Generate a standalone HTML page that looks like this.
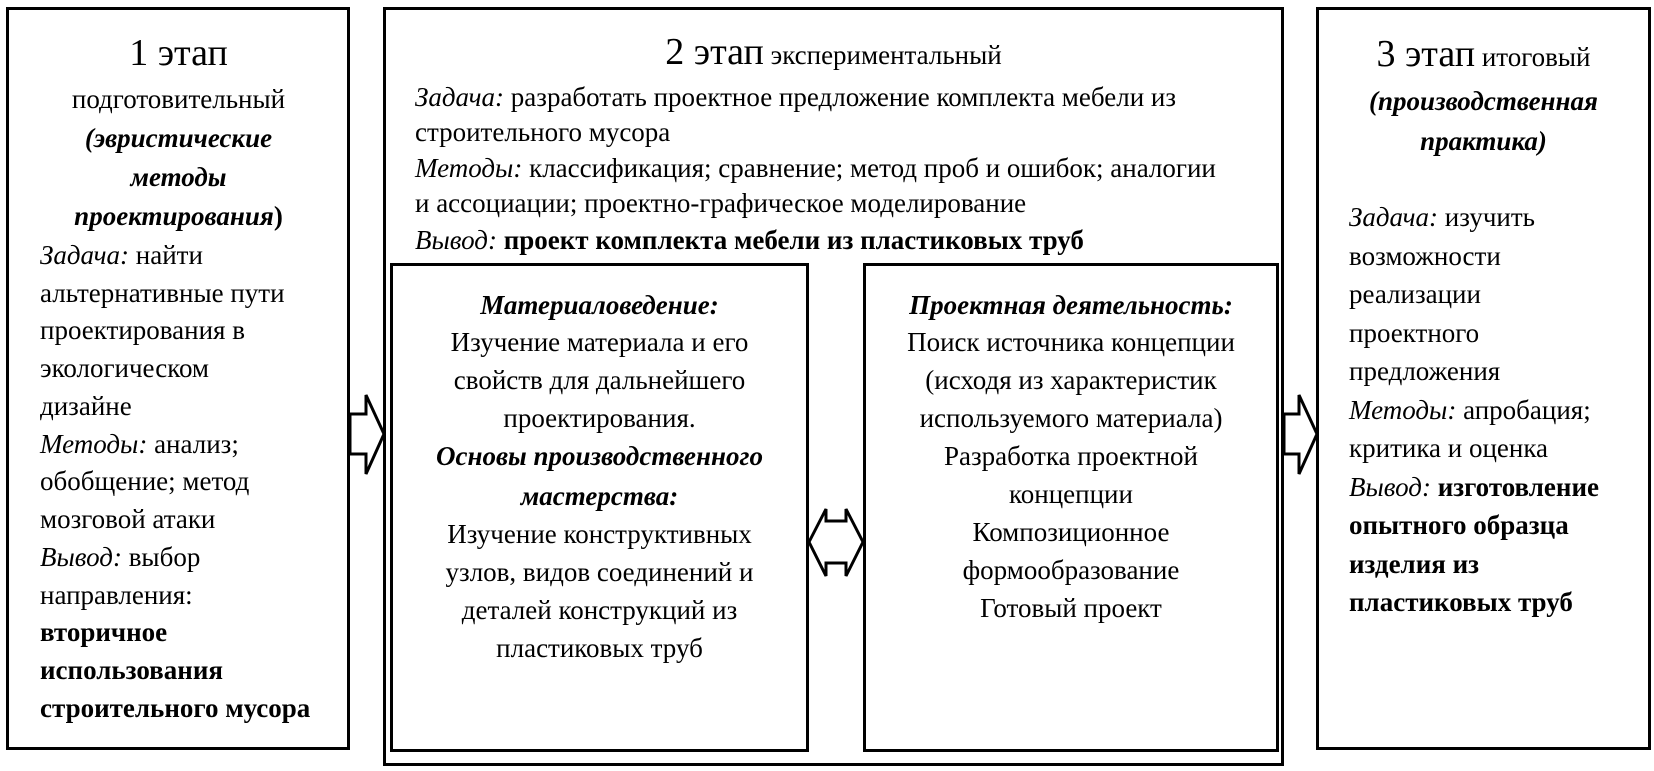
<!DOCTYPE html>
<html><head><meta charset="utf-8"><style>
*{margin:0;padding:0;box-sizing:border-box}
body{width:1654px;height:771px;background:#fff;position:relative;overflow:hidden;font-family:"Liberation Serif","DejaVu Serif",serif;color:#000}
.b{position:absolute;border:3px solid #000}
.t{position:absolute;font-size:27px;line-height:38px;white-space:nowrap}
.c{text-align:center}
i{font-style:italic}
.big{font-size:38px}
</style></head><body>
<div class="b" style="left:6px;top:7px;width:344px;height:743px"></div>
<div class="b" style="left:383px;top:7px;width:901px;height:759px"></div>
<div class="b" style="left:390px;top:263px;width:419px;height:489px"></div>
<div class="b" style="left:863px;top:263px;width:416px;height:489px"></div>
<div class="b" style="left:1316px;top:7px;width:335px;height:743px"></div>

<svg style="position:absolute;left:0;top:0" width="1654" height="771">
<polygon points="350,414 366,414 366,395 384,434 366,474 366,454 350,454" fill="#fff" stroke="#000" stroke-width="3"/>
<polygon points="1284,414 1299,414 1299,395 1317,434 1299,474 1299,454 1284,454" fill="#fff" stroke="#000" stroke-width="3"/>
<polygon points="809,542 826,509 826,521 846,521 846,509 863,542 846,576 846,563 826,563 826,576" fill="#fff" stroke="#000" stroke-width="3"/>
</svg>

<!-- box 1 -->
<div class="t c" style="left:6px;width:345px;top:0">
<div class="big" style="position:absolute;left:0;width:345px;top:34px;line-height:38px">1 этап</div>
<div style="position:absolute;left:0;width:345px;top:80px">подготовительный</div>
<div style="position:absolute;left:0;width:345px;top:119px"><b><i>(эвристические</i></b></div>
<div style="position:absolute;left:0;width:345px;top:158px"><b><i>методы</i></b></div>
<div style="position:absolute;left:0;width:345px;top:197px"><b><i>проектирования</i>)</b></div>
</div>
<div class="t" style="left:40px;top:236px"><i>Задача:</i> найти</div>
<div class="t" style="left:40px;top:274px">альтернативные пути</div>
<div class="t" style="left:40px;top:311px">проектирования в</div>
<div class="t" style="left:40px;top:349px">экологическом</div>
<div class="t" style="left:40px;top:387px">дизайне</div>
<div class="t" style="left:40px;top:425px"><i>Методы:</i> анализ;</div>
<div class="t" style="left:40px;top:462px">обобщение; метод</div>
<div class="t" style="left:40px;top:500px">мозговой атаки</div>
<div class="t" style="left:40px;top:538px"><i>Вывод:</i> выбор</div>
<div class="t" style="left:40px;top:576px">направления:</div>
<div class="t" style="left:40px;top:613px"><b>вторичное</b></div>
<div class="t" style="left:40px;top:651px"><b>использования</b></div>
<div class="t" style="left:40px;top:689px"><b>строительного мусора</b></div>

<!-- box 2 -->
<div class="t c" style="left:383px;width:901px;top:33px"><span class="big">2 этап</span> экспериментальный</div>
<div class="t" style="left:415px;top:78px"><i>Задача:</i> разработать проектное предложение комплекта мебели из</div>
<div class="t" style="left:415px;top:113px">строительного мусора</div>
<div class="t" style="left:415px;top:149px"><i>Методы:</i> классификация; сравнение; метод проб и ошибок; аналогии</div>
<div class="t" style="left:415px;top:184px">и ассоциации; проектно-графическое моделирование</div>
<div class="t" style="left:415px;top:221px"><i>Вывод:</i> <b>проект комплекта мебели из пластиковых труб</b></div>

<div class="t c" style="left:390px;width:419px;top:286px"><b><i>Материаловедение:</i></b></div>
<div class="t c" style="left:390px;width:419px;top:323px">Изучение материала и его</div>
<div class="t c" style="left:390px;width:419px;top:361px">свойств для дальнейшего</div>
<div class="t c" style="left:390px;width:419px;top:399px">проектирования.</div>
<div class="t c" style="left:390px;width:419px;top:437px"><b><i>Основы производственного</i></b></div>
<div class="t c" style="left:390px;width:419px;top:477px"><b><i>мастерства:</i></b></div>
<div class="t c" style="left:390px;width:419px;top:515px">Изучение конструктивных</div>
<div class="t c" style="left:390px;width:419px;top:553px">узлов, видов соединений и</div>
<div class="t c" style="left:390px;width:419px;top:591px">деталей конструкций из</div>
<div class="t c" style="left:390px;width:419px;top:629px">пластиковых труб</div>

<div class="t c" style="left:863px;width:416px;top:286px"><b><i>Проектная деятельность:</i></b></div>
<div class="t c" style="left:863px;width:416px;top:323px">Поиск источника концепции</div>
<div class="t c" style="left:863px;width:416px;top:361px">(исходя из характеристик</div>
<div class="t c" style="left:863px;width:416px;top:399px">используемого материала)</div>
<div class="t c" style="left:863px;width:416px;top:437px">Разработка проектной</div>
<div class="t c" style="left:863px;width:416px;top:475px">концепции</div>
<div class="t c" style="left:863px;width:416px;top:513px">Композиционное</div>
<div class="t c" style="left:863px;width:416px;top:551px">формообразование</div>
<div class="t c" style="left:863px;width:416px;top:589px">Готовый проект</div>

<!-- box 3 -->
<div class="t c" style="left:1316px;width:335px;top:35px"><span class="big">3 этап</span> итоговый</div>
<div class="t c" style="left:1316px;width:335px;top:82px"><b><i>(производственная</i></b></div>
<div class="t c" style="left:1316px;width:335px;top:122px"><b><i>практика)</i></b></div>
<div class="t" style="left:1349px;top:198px"><i>Задача:</i> изучить</div>
<div class="t" style="left:1349px;top:237px">возможности</div>
<div class="t" style="left:1349px;top:275px">реализации</div>
<div class="t" style="left:1349px;top:314px">проектного</div>
<div class="t" style="left:1349px;top:352px">предложения</div>
<div class="t" style="left:1349px;top:391px"><i>Методы:</i> апробация;</div>
<div class="t" style="left:1349px;top:429px">критика и оценка</div>
<div class="t" style="left:1349px;top:468px"><i>Вывод:</i> <b>изготовление</b></div>
<div class="t" style="left:1349px;top:506px"><b>опытного образца</b></div>
<div class="t" style="left:1349px;top:545px"><b>изделия из</b></div>
<div class="t" style="left:1349px;top:583px"><b>пластиковых труб</b></div>
</body></html>
